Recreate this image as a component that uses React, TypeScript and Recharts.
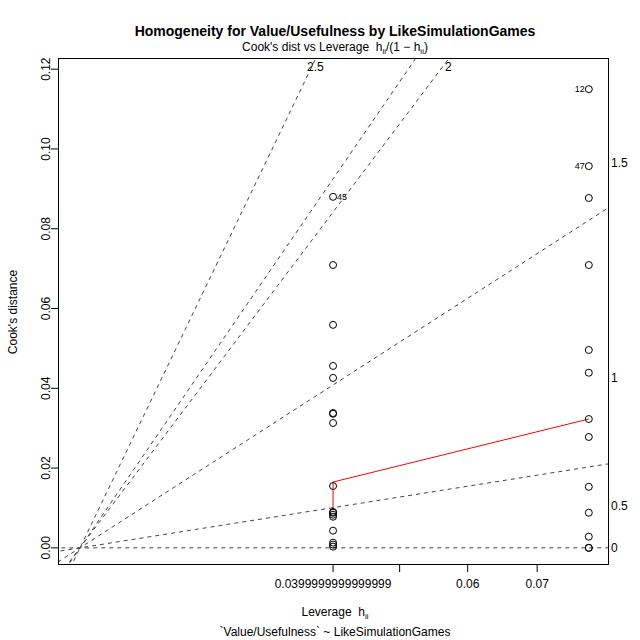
import { ComposedChart, Scatter, Line, XAxis, YAxis } from 'recharts';

// x positions are h/(1-h); tick labels show leverage h
const levLeft = 0.0399999999999999;
const levRight = 0.0773;
const gLeft = levLeft / (1 - levLeft);
const gRight = levRight / (1 - levRight);

const cookLeft = [0.088, 0.0709, 0.0559, 0.0456, 0.0426, 0.0338, 0.0336, 0.0313, 0.0155, 0.009, 0.0088, 0.0083, 0.0078, 0.0043, 0.0013, 0.0008, 0.0003];
const cookRight = [0.115, 0.0957, 0.0877, 0.0709, 0.0496, 0.0439, 0.0323, 0.0278, 0.0153, 0.0088, 0.0028, 0.0, 0.0];
const labelsLeft: Record<number, string> = { 0: '45' };
const labelsRight: Record<number, string> = { 0: '12', 1: '47' };
const smoothY = [0.0095, 0.0165, 0.0323];
// slopes of the dashed Cook's distance contours
const contourSlopes = [0, 0.242, 0.98, 2.02, 2.22, 3.16];
const tickLev = [0.0399999999999999, 0.05, 0.06, 0.07];
const tickLevLabels = ['0.0399999999999999', '', '0.06', '0.07'];
const yTicks = [0, 0.02, 0.04, 0.06, 0.08, 0.1, 0.12];

const xMin = -0.00362;
const xMax = 0.0871;
const yMin = -0.0043;
const yMax = 0.1228;

const pointsLeft = cookLeft.map((y, i) => ({ x: gLeft, y, label: labelsLeft[i], side: 'right' }));
const pointsRight = cookRight.map((y, i) => ({ x: gRight, y, label: labelsRight[i], side: 'left' }));
const smooth = [
  { x: gLeft, y: smoothY[0] },
  { x: gLeft, y: smoothY[1] },
  { x: gRight, y: smoothY[2] },
];
const contours = contourSlopes.map((s) => [
  { x: xMin - 0.01, y: s * (xMin - 0.01) },
  { x: xMax + 0.01, y: s * (xMax + 0.01) },
]);
const gTicks = tickLev.map((h) => h / (1 - h));

const font = 'Liberation Sans, Arial, sans-serif';

const Dot = (props: any) => {
  const { cx, cy, payload } = props;
  return (
    <g>
      <circle cx={cx} cy={cy} r={3.5} fill="none" stroke="#000" strokeWidth={1} />
      {payload.label && (
        <text
          x={payload.side === 'right' ? cx + 4 : cx - 4}
          y={cy + 3}
          fontSize={9}
          fontFamily={font}
          textAnchor={payload.side === 'right' ? 'start' : 'end'}
        >
          {payload.label}
        </text>
      )}
    </g>
  );
};

const YTick = (props: any) => {
  const { x, y, payload } = props;
  return (
    <text x={x + 1} y={y} transform={`rotate(-90 ${x + 1} ${y})`} textAnchor="middle" fontSize={12} fontFamily={font}>
      {payload.value.toFixed(2)}
    </text>
  );
};

const XTick = (props: any) => {
  const { x, y, index } = props;
  return (
    <text x={x} y={y + 14} textAnchor="middle" fontSize={12} fontFamily={font}>
      {tickLevLabels[index]}
    </text>
  );
};

const txt = (left: number, top: number, s: string) => (
  <div style={{ position: 'absolute', left, top, fontFamily: font, fontSize: 12, lineHeight: 1 }}>{s}</div>
);

export default function App() {
  return (
    <div style={{ position: 'absolute', left: 0, top: 0, width: 640, height: 640, background: '#fff' }}>
      <ComposedChart width={640} height={640} margin={{ top: 58, right: 31, bottom: 0, left: 0 }}>
        <XAxis
          type="number"
          dataKey="x"
          domain={[xMin, xMax]}
          allowDataOverflow
          ticks={gTicks}
          interval={0}
          tick={<XTick />}
          tickSize={7}
          height={75}
          axisLine={false}
          tickLine={{ stroke: '#000' }}
        />
        <YAxis
          type="number"
          dataKey="y"
          domain={[yMin, yMax]}
          allowDataOverflow
          ticks={yTicks}
          interval={0}
          tick={<YTick />}
          tickSize={7}
          width={58}
          axisLine={false}
          tickLine={{ stroke: '#000' }}
        />
        {contours.map((d, i) => (
          <Line
            key={i}
            data={d}
            dataKey="y"
            stroke="#444"
            strokeDasharray="4 4"
            strokeWidth={1}
            dot={false}
            isAnimationActive={false}
          />
        ))}
        <Line data={smooth} dataKey="y" stroke="#ff0000" strokeWidth={1} dot={false} isAnimationActive={false} type="linear" />
        <Scatter data={pointsLeft} shape={<Dot />} isAnimationActive={false} />
        <Scatter data={pointsRight} shape={<Dot />} isAnimationActive={false} />
      </ComposedChart>
      <div style={{ position: 'absolute', left: 58, top: 58, width: 551, height: 507, border: '1px solid #000', boxSizing: 'border-box' }} />
      <div style={{ position: 'absolute', left: 0, top: 23, width: 670, textAlign: 'center', fontFamily: font, fontSize: 14, fontWeight: 'bold' }}>
        Homogeneity for Value/Usefulness by LikeSimulationGames
      </div>
      <div style={{ position: 'absolute', left: 0, top: 40, width: 670, textAlign: 'center', fontFamily: font, fontSize: 12 }}>
        Cook's dist vs Leverage&nbsp; h<sub style={{ fontSize: 8 }}>ii</sub>/(1 − h<sub style={{ fontSize: 8 }}>ii</sub>)
      </div>
      <div style={{ position: 'absolute', left: 0, top: 605, width: 670, textAlign: 'center', fontFamily: font, fontSize: 12 }}>
        Leverage&nbsp; h<sub style={{ fontSize: 8 }}>ii</sub>
      </div>
      <div style={{ position: 'absolute', left: 0, top: 625, width: 670, textAlign: 'center', fontFamily: font, fontSize: 12 }}>
        `Value/Usefulness` ~ LikeSimulationGames
      </div>
      <div style={{ position: 'absolute', left: 13 - 50, top: 312 - 7, width: 100, textAlign: 'center', fontFamily: font, fontSize: 12, transform: 'rotate(-90deg)' }}>
        Cook's distance
      </div>
      {txt(611, 542, '0')}
      {txt(611, 500, '0.5')}
      {txt(611, 372, '1')}
      {txt(611, 157, '1.5')}
      {txt(445, 61, '2')}
      {txt(307, 61, '2.5')}
    </div>
  );
}
